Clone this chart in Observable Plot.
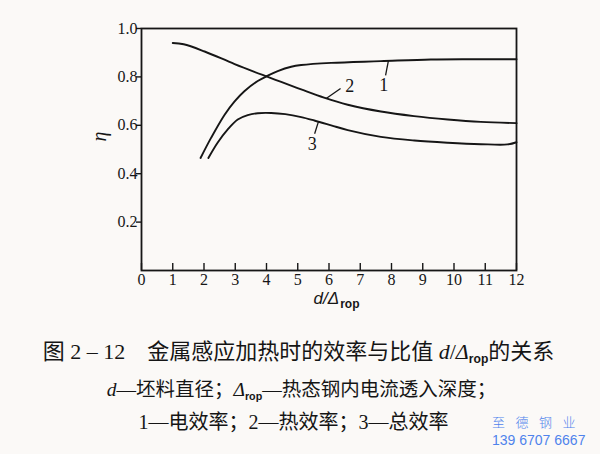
<!DOCTYPE html>
<html>
<head>
<meta charset="utf-8">
<script src="https://cdn.jsdelivr.net/npm/d3@7"></script>
<script src="https://cdn.jsdelivr.net/npm/@observablehq/plot@0.6"></script>
<style>
  html, body { margin: 0; padding: 0; background: #fbf9f7; }
  #page { position: relative; width: 600px; height: 454px; overflow: hidden; }
  #chart { position: absolute; left: 0; top: 0; }
  .cap {
    position: absolute; width: 594px; text-align: center; white-space: nowrap;
    font-family: "Liberation Serif", "Times New Roman", "DejaVu Serif", "Noto Sans CJK SC", serif;
    color: #151515; line-height: 1;
  }
  .cap i { font-style: italic; }
  .sub { font-family: "Liberation Sans", sans-serif; font-weight: bold; font-size: 0.55em; vertical-align: -0.35em; }
  #line1 { left: 1.5px; top: 341px; font-size: 22px; }
  #line2 { left: 4.5px; top: 380px; font-size: 19.5px; }
  #line3 { left: -3.5px; top: 412px; font-size: 20px; }
  .wm { position: absolute; color: #4f83ec; white-space: nowrap; line-height: 1; }
  #wm1 { left: 492px; top: 415px; font-family: "Noto Sans CJK SC", sans-serif; font-weight: 300; font-size: 13px; letter-spacing: 10.5px; }
  #wm2 { left: 492px; top: 433px; font-family: "Liberation Sans", sans-serif; font-size: 14px; }
</style>
</head>
<body>
<div id="page">
  <div id="chart"></div>
  <div class="cap" id="line1">图 2 – 12　金属感应加热时的效率与比值 <i>d</i>/<i>Δ</i><span class="sub">rop</span>的关系</div>
  <div class="cap" id="line2"><i>d</i>—坯料直径；<i>Δ</i><span class="sub">rop</span>—热态钢内电流透入深度；</div>
  <div class="cap" id="line3">1—电效率；2—热效率；3—总效率</div>
  <div class="wm" id="wm1">至德钢业</div>
  <div class="wm" id="wm2">139 6707 6667</div>
</div>
<script>
// Ratio d/Δrop on the horizontal axis, efficiency η on the vertical axis
const xTicks = [0, 1, 2, 3, 4, 5, 6, 7, 8, 9, 10, 11, 12];
const yTicks = [0.2, 0.4, 0.6, 0.8, 1.0];

// 1 — electrical efficiency
const ratio1 = [1.89, 2.23, 2.66, 2.98, 3.30, 3.72, 4.04, 4.36, 4.79, 5.11, 6.07, 7.66, 9.26, 10.6, 12.0];
const eff1   = [0.465, 0.549, 0.644, 0.699, 0.742, 0.783, 0.805, 0.824, 0.842, 0.849, 0.858, 0.865, 0.872, 0.873, 0.873];

// 2 — thermal efficiency
const ratio2 = [1.0, 1.35, 2.02, 2.98, 4.04, 4.47, 5.11, 5.84, 6.60, 7.66, 8.72, 9.80, 10.86, 12.0];
const eff2   = [0.940, 0.935, 0.905, 0.853, 0.800, 0.779, 0.748, 0.714, 0.685, 0.657, 0.638, 0.624, 0.614, 0.609];

// 3 — total efficiency
const ratio3 = [2.14, 2.44, 2.76, 3.08, 3.40, 3.72, 4.15, 4.60, 5.11, 5.53, 6.07, 6.60, 7.66, 8.73, 9.80, 10.86, 11.71, 12.0];
const eff3   = [0.465, 0.529, 0.583, 0.624, 0.642, 0.650, 0.651, 0.646, 0.634, 0.620, 0.600, 0.580, 0.552, 0.537, 0.528, 0.522, 0.521, 0.530];

// curve numbers and their leader lines
const curveIds    = ["1", "2", "3"];
const labelX      = [7.75, 6.66, 5.46];
const labelY      = [0.764, 0.760, 0.521];
const leaderFromX = [7.90, 5.91, 5.66];
const leaderFromY = [0.866, 0.711, 0.614];
const leaderToX   = [7.81, 6.37, 5.54];
const leaderToY   = [0.806, 0.752, 0.565];

const rows = [
  ...ratio1.map((x, i) => ({curve: "1", x, y: eff1[i]})),
  ...ratio2.map((x, i) => ({curve: "2", x, y: eff2[i]})),
  ...ratio3.map((x, i) => ({curve: "3", x, y: eff3[i]}))
];
const labels = curveIds.map((id, i) => ({id, x: labelX[i], y: labelY[i]}));
const leaders = curveIds.map((id, i) => ({x1: leaderFromX[i], y1: leaderFromY[i], x2: leaderToX[i], y2: leaderToY[i]}));

const ink = "#161616";
const serif = '"Liberation Serif", "Times New Roman", "DejaVu Serif", serif';

const plot = Plot.plot({
  width: 600,
  height: 320,
  marginLeft: 141,
  marginRight: 84,
  marginTop: 28,
  marginBottom: 50,
  x: {domain: [0, 12]},
  y: {domain: [0, 1]},
  style: {background: "transparent", fontFamily: serif, fontSize: "16px", color: ink},
  marks: [
    Plot.frame({stroke: ink, strokeWidth: 1.8}),
    Plot.axisX({ticks: xTicks, tickSize: -7, tickPadding: 10, tickFormat: d => String(d), label: null, stroke: ink, strokeWidth: 1.4, fontFamily: serif, fontSize: 16}),
    Plot.axisY({ticks: yTicks, tickSize: 5, tickPadding: -1, tickFormat: d3.format(".1f"), label: null, stroke: ink, strokeWidth: 1.4, fontFamily: serif, fontSize: 16}),
    Plot.line(rows, {x: "x", y: "y", z: "curve", curve: "catmull-rom", stroke: ink, strokeWidth: 1.9}),
    Plot.link(leaders, {x1: "x1", y1: "y1", x2: "x2", y2: "y2", stroke: ink, strokeWidth: 1.3}),
    Plot.text(labels, {x: "x", y: "y", text: "id", fontSize: 18, fontFamily: serif, fill: ink}),
    Plot.text(["η"], {frameAnchor: "left", dx: -42, dy: -8, rotate: -90, fontStyle: "italic", fontFamily: serif, fontSize: 20, fill: ink})
  ]
});

// x-axis title with the Δrop subscript
const xs = plot.scale("x");
const ys = plot.scale("y");
const svg = d3.select(plot);
const title = svg.append("text")
  .attr("x", (xs.apply(0) + xs.apply(12)) / 2 + 8)
  .attr("y", ys.apply(0) + 34)
  .attr("text-anchor", "middle")
  .attr("fill", ink)
  .attr("font-family", "Liberation Sans, sans-serif");
title.append("tspan").attr("font-style", "italic").attr("font-size", 17).text("d/Δ");
title.append("tspan").attr("font-size", 12).attr("font-weight", "bold").attr("dy", 4).attr("dx", 1).text("rop");

document.getElementById("chart").appendChild(plot);
</script>
</body>
</html>
